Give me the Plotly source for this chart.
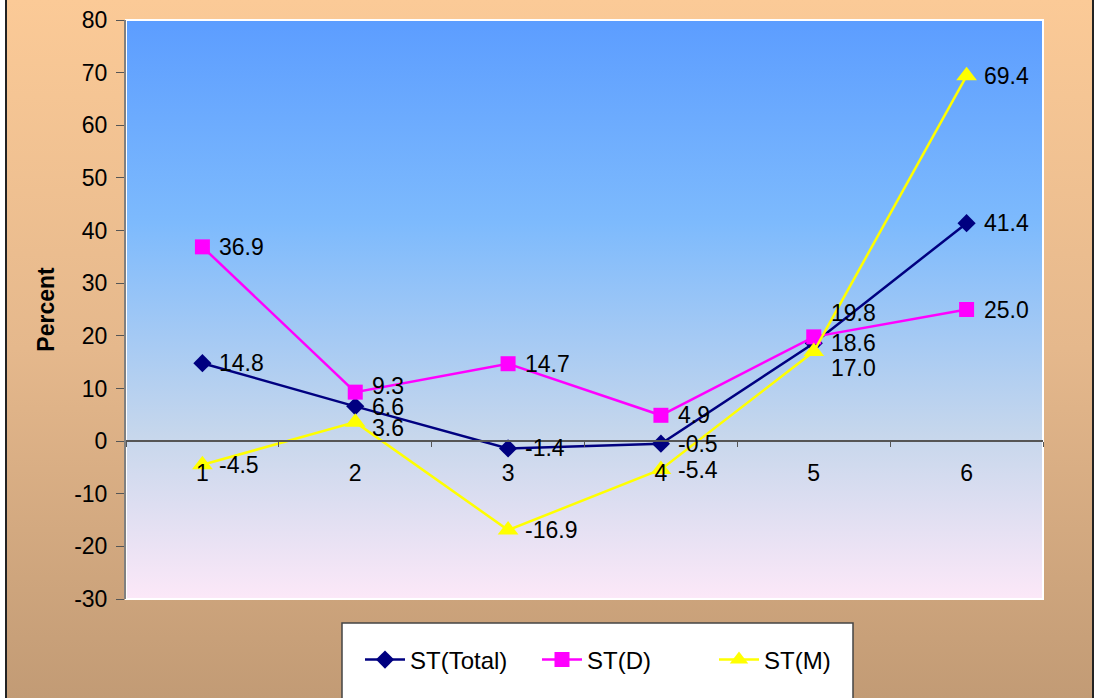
import base64
import plotly.graph_objects as go

# Periods on the horizontal axis
categories = ["1", "2", "3", "4", "5", "6"]

# Percent change per series
st_total = [14.8, 6.6, -1.4, -0.5, 18.6, 41.4]
st_d = [36.9, 9.3, 14.7, 4.9, 19.8, 25.0]
st_m = [-4.5, 3.6, -16.9, -5.4, 17.0, 69.4]

y_ticks = [-30, -20, -10, 0, 10, 20, 30, 40, 50, 60, 70, 80]
y_tick_labels = ["-30", "-20", "-10", "0", "10", "20", "30", "40", "50", "60", "70", "80"]

FONT = "Arial, 'Liberation Sans', sans-serif"

# Figure geometry (pixels)
W, H = 1097, 698
M_L, M_R, M_T, M_B = 126, 54, 20, 99
PW, PH = W - M_L - M_R, H - M_T - M_B


def px_x(px):
    return (px - M_L) / PW


def px_y(py):
    return (H - M_B - py) / PH


def gradient_uri(stops):
    parts = "".join(
        f'<stop offset="{o}" stop-color="{c}"/>' for o, c in stops
    )
    svg = (
        '<svg xmlns="http://www.w3.org/2000/svg" width="100" height="100" '
        'preserveAspectRatio="none" viewBox="0 0 100 100">'
        '<defs><linearGradient id="g" x1="0" y1="0" x2="0" y2="1">'
        f"{parts}</linearGradient></defs>"
        '<rect x="0" y="0" width="100" height="100" fill="url(#g)"/></svg>'
    )
    return "data:image/svg+xml;base64," + base64.b64encode(svg.encode()).decode()


paper_grad = gradient_uri([(0, "#FBCA97"), (0.5, "#E5B88C"), (1, "#C29B75")])
plot_grad = gradient_uri(
    [(0, "#5C9DFF"), (0.35, "#7DBAFD"), (0.72, "#C7D7EC"), (1, "#FCE8F8")]
)

series = [
    dict(name="ST(Total)", y=st_total, color="#000080", symbol="diamond", size=14),
    dict(name="ST(D)", y=st_d, color="#FF00FF", symbol="square", size=15),
    dict(name="ST(M)", y=st_m, color="#FFFF00", symbol="triangle-up", size=18),
]

fig = go.Figure()
for s in series:
    fig.add_trace(
        go.Scatter(
            x=categories,
            y=s["y"],
            name=s["name"],
            mode="lines+markers",
            line=dict(color=s["color"], width=2.5),
            marker=dict(symbol=s["symbol"], size=s["size"], color=s["color"]),
            cliponaxis=False,
        )
    )

# Vertical nudges (px) for labels that would collide
label_nudge = {
    ("ST(D)", 4): 24,
    ("ST(M)", 4): -16,
    ("ST(D)", 1): 6,
    ("ST(Total)", 1): -1,
    ("ST(M)", 1): -6,
}

annotations = []
for s in series:
    for i, v in enumerate(s["y"]):
        annotations.append(
            dict(
                x=i,
                y=v,
                text=f"{v:.1f}",
                showarrow=False,
                xanchor="left",
                yanchor="middle",
                xshift=15,
                yshift=label_nudge.get((s["name"], i), 0),
                font=dict(family=FONT, size=23, color="#000000"),
            )
        )

fig.update_layout(
    width=W,
    height=H,
    margin=dict(l=M_L, r=M_R, t=M_T, b=M_B, autoexpand=False),
    paper_bgcolor="#FFFFFF",
    plot_bgcolor="rgba(0,0,0,0)",
    font=dict(family=FONT, size=23, color="#000000"),
    showlegend=True,
    legend=dict(
        orientation="h",
        x=px_x(360),
        y=px_y(660),
        xanchor="left",
        yanchor="middle",
        bgcolor="rgba(0,0,0,0)",
        font=dict(family=FONT, size=24, color="#000000"),
        itemwidth=40,
        entrywidth=122,
        tracegroupgap=0,
    ),
    images=[
        dict(
            source=paper_grad,
            xref="paper",
            yref="paper",
            x=px_x(6),
            y=px_y(0),
            sizex=(1093 - 6) / PW,
            sizey=H / PH,
            xanchor="left",
            yanchor="top",
            sizing="stretch",
            layer="below",
        ),
        dict(
            source=plot_grad,
            xref="paper",
            yref="paper",
            x=0,
            y=1,
            sizex=1,
            sizey=1,
            xanchor="left",
            yanchor="top",
            sizing="stretch",
            layer="below",
        ),
    ],
    shapes=[
        # white rim of the plot area
        dict(type="rect", xref="paper", yref="paper", x0=0, x1=1, y0=0, y1=1,
             line=dict(color="#FFFFFF", width=2), fillcolor="rgba(0,0,0,0)",
             layer="below"),
        # outer frame sides
        dict(type="line", xref="paper", yref="paper", x0=px_x(6), x1=px_x(6),
             y0=px_y(0), y1=px_y(H), line=dict(color="#222222", width=2)),
        dict(type="line", xref="paper", yref="paper", x0=px_x(1093), x1=px_x(1093),
             y0=px_y(0), y1=px_y(H), line=dict(color="#222222", width=2)),
        # legend box
        dict(type="rect", xref="paper", yref="paper", x0=px_x(342), x1=px_x(853),
             y0=px_y(H + 5), y1=px_y(623), fillcolor="#FFFFFF",
             line=dict(color="#444444", width=1.5), layer="above"),
    ],
    annotations=annotations,
    xaxis=dict(
        type="category",
        categoryorder="array",
        categoryarray=categories,
        range=[-0.5, 5.5],
        anchor="free",
        position=30 / 110,
        showline=True,
        linecolor="#555555",
        linewidth=1.5,
        ticks="outside",
        tickson="boundaries",
        ticklen=5,
        tickcolor="#555555",
        ticklabelstandoff=12,
        showgrid=False,
        zeroline=False,
        tickfont=dict(family=FONT, size=23, color="#000000"),
    ),
    yaxis=dict(
        range=[-30, 80],
        tickvals=y_ticks,
        ticktext=y_tick_labels,
        ticks="outside",
        ticklen=8,
        tickcolor="#555555",
        showline=True,
        linecolor="#808080",
        linewidth=2,
        showgrid=False,
        zeroline=False,
        ticklabelstandoff=4,
        tickfont=dict(family=FONT, size=23, color="#000000"),
        title=dict(
            text="<b>Percent</b>",
            standoff=13,
            font=dict(family=FONT, size=23, color="#000000"),
        ),
    ),
)

fig.write_html("out.html")
